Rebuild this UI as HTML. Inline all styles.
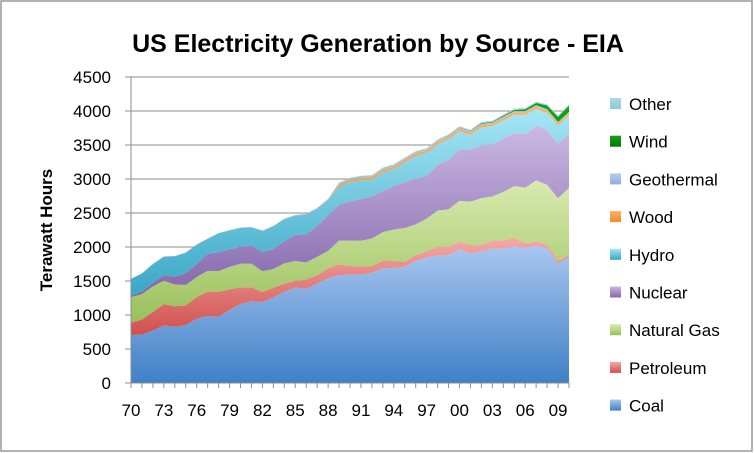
<!DOCTYPE html>
<html><head><meta charset="utf-8"><style>
html,body{margin:0;padding:0;background:#fff;}
svg{display:block;font-family:"Liberation Sans",Arial,sans-serif;}
</style></head><body>
<svg id="chart" width="754" height="453" viewBox="0 0 754 453">
<defs id="defs"></defs>
<rect x="1" y="1" width="751" height="450" fill="#fff" stroke="#999" stroke-width="1.5"/>
<text x="378" y="52" text-anchor="middle" font-size="25" font-weight="bold" fill="#000">US Electricity Generation by Source - EIA</text>
<text transform="translate(52,230) rotate(-90)" text-anchor="middle" font-size="17" font-weight="bold">Terawatt Hours</text>
<g id="grid"></g><g id="areas"></g><g id="axes"></g><g id="legend"></g>
</svg>
<script>
const years = [];for(let y=1970;y<=2010;y++)years.push(y);
const coal = [704,713,771,848,828,853,944,985,976,1075,1162,1203,1192,1259,1342,1402,1386,1464,1541,1584,1594,1591,1621,1690,1691,1709,1796,1845,1874,1881,1966,1904,1933,1974,1978,2013,1991,2016,1986,1756,1847];
const petroleum = [184,220,274,314,301,289,320,358,365,304,246,206,147,144,120,100,137,118,149,158,126,120,100,113,106,75,82,93,129,118,111,125,95,119,121,122,64,66,46,39,37];
const gas = [373,374,376,341,320,300,295,306,305,329,346,346,305,274,297,292,249,273,253,352,373,381,404,415,460,496,455,479,532,557,601,639,691,650,710,761,816,897,883,921,988];
const nuclear = [22,38,54,83,114,173,191,251,276,255,251,273,283,294,328,384,414,455,527,529,577,613,619,610,640,673,675,629,674,728,754,769,780,764,789,782,787,806,806,799,807];
const hydro = [248,266,273,272,301,300,284,220,280,280,276,261,309,332,321,281,290,250,223,265,283,276,245,269,248,296,331,338,304,299,271,214,260,271,265,266,286,245,253,273,255];
const wood = [1,1,1,1,1,1,1,1,1,1,1,1,1,1,2,3,3,4,5,30,32,33,35,36,37,36,36,36,36,37,37,35,38,37,38,39,39,39,37,36,37];
const geothermal = [1,1,2,2,3,3,4,4,3,4,5,5,5,6,8,9,10,11,11,14,15,16,16,17,15,14,15,15,15,15,14,14,14,14,15,15,15,15,15,15,15];
const wind = [0,0,0,0,0,0,0,0,0,0,0,0,0,0,0,0,0,0,0,2,3,3,3,3,4,3,3,3,3,5,6,7,10,11,14,18,27,35,55,74,95];
const other = [0,0,0,0,0,0,0,0,0,0,0,0,0,0,0,0,0,0,0,12,13,14,14,15,15,15,15,15,15,16,16,15,17,17,18,19,19,19,19,18,19];
const seriesNames = ["Coal","Petroleum","Natural Gas","Nuclear","Hydro","Wood","Geothermal","Wind","Other"];
const seriesData = [coal,petroleum,gas,nuclear,hydro,wood,geothermal,wind,other];
const yTicks = [0,500,1000,1500,2000,2500,3000,3500,4000,4500];
const xLabelYears = [1970,1973,1976,1979,1982,1985,1988,1991,1994,1997,2000,2003,2006,2009];

const colors = [["#a9c6f0","#3f80c6"],["#f4a9a7","#cf504c"],["#d9eab0","#99c05a"],["#cbb9e2","#8466ac"],["#a6e6f6","#3aa7c6"],["#fbb06a","#f28a2c"],["#b6cdf0","#8eaede"],["#17a117","#007a00"],["#a8d8e4","#8ccadb"]];
const slugs = ["coal","petroleum","natural-gas","nuclear","hydro","wood","geothermal","wind","other"];
const NS="http://www.w3.org/2000/svg";
const x0=131,x1=569,y0=383,yTop=77;
const xs=i=>x0+(x1-x0)*i/(years.length-1);
const ys=v=>y0-(y0-yTop)*v/4500;
function el(t,a,p){const e=document.createElementNS(NS,t);for(const k in a)e.setAttribute(k,a[k]);p.appendChild(e);return e;}
const defs=document.getElementById('defs');
colors.forEach((c,i)=>{const g=el('linearGradient',{id:'g'+i,x1:0,y1:0,x2:0,y2:1},defs);el('stop',{offset:0,'stop-color':c[0]},g);el('stop',{offset:1,'stop-color':c[1]},g);});
const grid=document.getElementById('grid');
yTicks.forEach(v=>{
 if(v>0){const l=el('line',{x1:125,x2:x1,y1:ys(v),y2:ys(v),stroke:'#8c8c8c','stroke-width':1},grid);
 
 }
 const t=el('text',{x:111,y:ys(v)+6,'text-anchor':'end','font-size':17},grid);t.textContent=v;
 
 
});
const areas=document.getElementById('areas');
let base=years.map(()=>0);
seriesData.forEach((d,si)=>{
 const top=base.map((b,i)=>b+d[i]);
 let p='';top.forEach((v,i)=>{p+=(i?'L':'M')+xs(i).toFixed(2)+','+ys(v).toFixed(2);});
 for(let i=years.length-1;i>=0;i--)p+='L'+xs(i).toFixed(2)+','+ys(base[i]).toFixed(2);
 const a=el('path',{d:p+'Z',fill:'url(#g'+si+')'},areas);
 
 
 base=top;
});
const axes=document.getElementById('axes');
el('line',{x1:x0,x2:x0,y1:yTop,y2:y0,stroke:'#8c8c8c'},axes);
el('line',{x1:125,x2:x1,y1:y0,y2:y0,stroke:'#8c8c8c'},axes);
years.forEach((y,i)=>{el('line',{x1:xs(i),x2:xs(i),y1:y0,y2:y0+5,stroke:'#8c8c8c'},axes);});
xLabelYears.forEach(y=>{const i=years.indexOf(y);const t=el('text',{x:xs(i),y:416,'text-anchor':'middle','font-size':17},axes);t.textContent=String(y).slice(2);
 
 });
const legend=document.getElementById('legend');
for(let k=0;k<9;k++){const si=8-k;const cy=104+k*37.7;
 const g=el('g',{},legend);
 
 
 el('rect',{x:610,y:cy-6,width:11,height:11,fill:'url(#g'+si+')'},g);
 const t=el('text',{x:629,y:cy+6,'font-size':17},g);t.textContent=seriesNames[si];}
</script>
</body></html>
